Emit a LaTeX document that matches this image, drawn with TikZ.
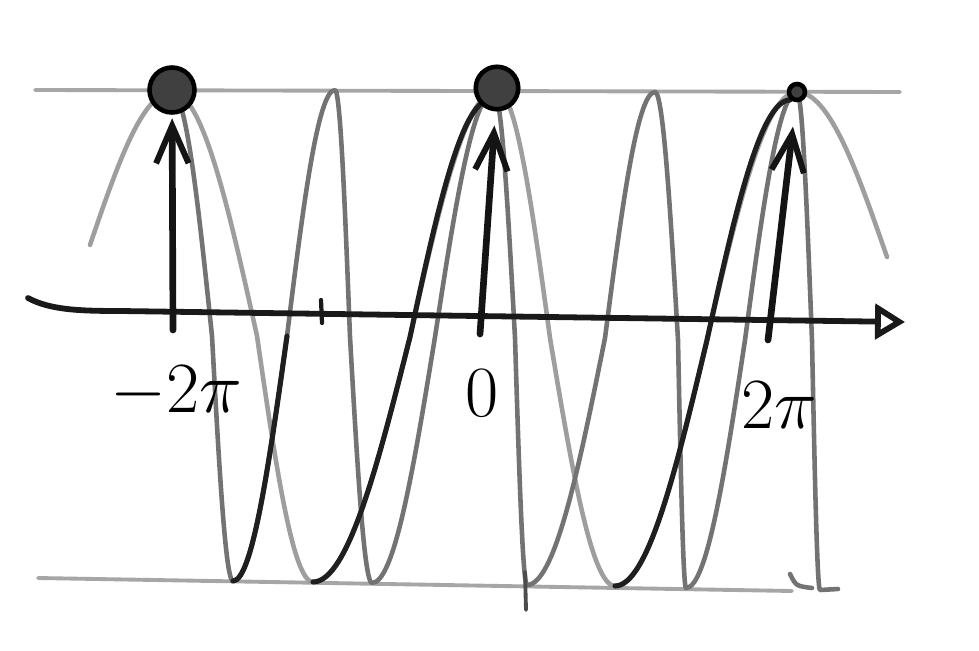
\documentclass[tikz,border=0pt]{standalone}
\usetikzlibrary{arrows.meta}
\newcommand{\biglbl}[1]{\scalebox{1.65}{\Huge$#1$}}
\begin{document}
\begin{tikzpicture}[
  x=0.02cm, y=-0.02cm,
  pencil/.style={line width=2.6pt, black!55, line cap=round, line join=round},
  faint/.style={pencil, black!38},
  dark/.style={pencil, black!88, line width=2.9pt},
  guide/.style={line width=2.2pt, black!35, line cap=round},
  axis/.style={line width=3.3pt, black!90, line cap=round},
  stem/.style={line width=3.8pt, black!92, line cap=round,
               -{Straight Barb[length=0.75cm, width=0.65cm, line width=3.4pt]}},
  dot/.style={circle, draw=black, line width=2.6pt, fill=black!75, inner sep=0pt},
  lbl/.style={inner sep=0pt},
]
\fill[white] (0,0) rectangle (979,651);
\useasboundingbox (0,0) rectangle (979,651);

\draw[guide] (35,90) -- (900,92);
\draw[guide] (38,578) -- (792,591);

\draw[faint] (90,245) sin (172,92) cos (257,336) sin (313,582) cos (410,337)
  sin (497,90) cos (550,338) sin (615,586) cos (707,340) sin (797,92) cos (887,257);
\draw[pencil] (172,92) cos (212,336) sin (233,581) cos (287,336) sin (335,90)
  cos (350,337) sin (372,583) cos (435,337) sin (494,92) cos (515,338) sin (527,585)
  cos (605,338) sin (655,92) cos (678,340) sin (686,588) cos (745,340) sin (797,92)
  cos (812,341) sin (820,590) -- (838,589);
\draw[pencil] (790,574) .. controls (796,586) .. (812,588);
\draw[dark] (233,581) cos (287,336);
\draw[dark] (313,582) cos (410,337) sin (490,100);
\draw[dark] (615,586) cos (707,340) sin (790,100);

\coordinate (axL) at (28,298);
\coordinate (axR) at (905,322);
\draw[axis, -{Triangle[open, length=0.6cm, width=0.7cm]}]
  (axL) .. controls (50,310) and (80,311) .. (120,311) -- (axR);
\draw[axis, line width=2.4pt] (321,300) -- (322,323);
\draw[guide, black!70] (525,572) -- (526,610);

\node[dot, minimum size=0.9cm] (d1) at (172,90) {};
\node[dot, minimum size=0.85cm] (d2) at (497,88) {};
\node[dot, minimum size=0.32cm] (d3) at (797,92) {};

\coordinate (b1) at (173,330);
\coordinate (b2) at (480,334);
\coordinate (b3) at (768,340);
\foreach \b/\d/\s in {b1/d1/2pt, b2/d2/8pt, b3/d3/14pt}
  \draw[stem, shorten >=\s] (\b) -- (\d);

\node[lbl] (lm) at (176,392) {\biglbl{-2\pi}};
\node[lbl] (l0) at (482,393) {\biglbl{0}};
\node[lbl] (lp) at (779,405) {\biglbl{2\pi}};
\end{tikzpicture}
\end{document}
